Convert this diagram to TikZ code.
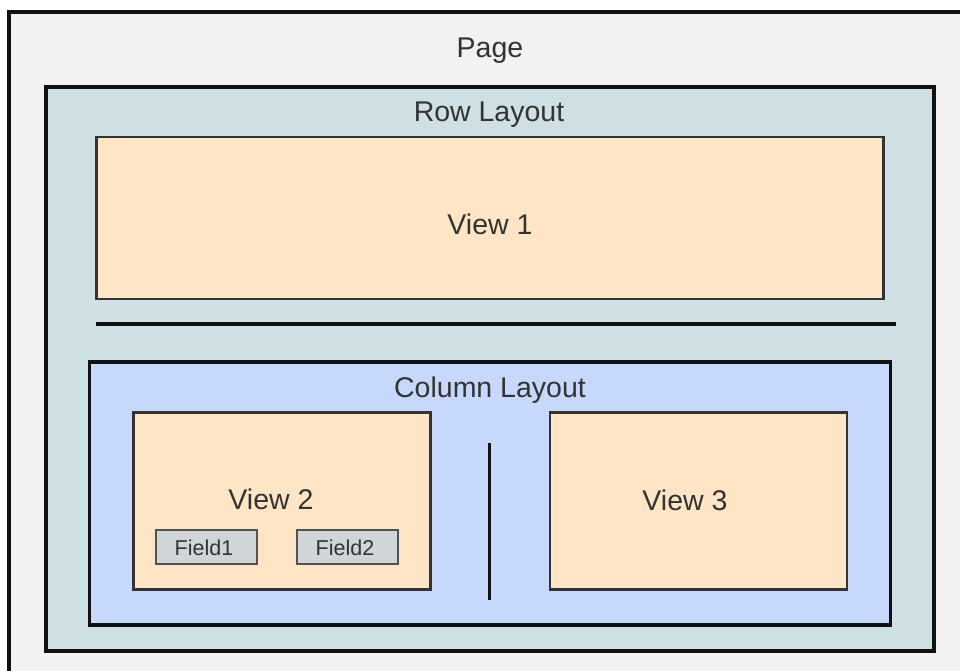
\documentclass[tikz,border=0pt]{standalone}
\usepackage{fontspec}
\setmainfont{Liberation Sans}
\definecolor{pagefill}{HTML}{F2F2F2}
\definecolor{rowfill}{HTML}{CEE0E4}
\definecolor{colfill}{HTML}{C6D8FC}
\definecolor{viewfill}{HTML}{FDE5C6}
\definecolor{fieldfill}{HTML}{D0D5D8}
\definecolor{txt}{HTML}{333333}
\definecolor{edge}{HTML}{111111}
\definecolor{vedge}{HTML}{333333}
\tikzset{
  box/.style={rectangle, anchor=north west, inner sep=0pt, outer sep=0pt},
  layoutbox/.style={box, draw=edge, line width=3.5pt},
  viewbox/.style={box, draw=vedge, fill=viewfill, line width=2.5pt},
  fieldbox/.style={box, draw=vedge!85, fill=fieldfill, line width=2pt},
  lbl/.style={anchor=base, inner sep=0pt, text=txt, font=\fontsize{28.5}{34}\selectfont},
  flbl/.style={anchor=base, inner sep=0pt, text=txt, font=\fontsize{21.5}{26}\selectfont},
  sep/.style={draw=edge, line width=3.8pt}
}
\begin{document}
\begin{tikzpicture}[x=1pt,y=-1pt]
\useasboundingbox (0,0) rectangle (960,671);
\clip (0,0) rectangle (960,671);
\fill[white] (0,0) rectangle (960,671);
% page
\node[layoutbox, fill=pagefill, minimum width=980pt, minimum height=690pt] (page) at (9,12) {};
\node[lbl] (pagelbl) at (490,58) {Page};
% row layout
\node[layoutbox, fill=rowfill, minimum width=888pt, minimum height=564pt] (row) at (46,87) {};
\node[lbl] (rowlbl) at (489,122) {Row Layout};
% view 1
\node[viewbox, minimum width=787pt, minimum height=162pt] (view1) at (96.5,137) {};
\node[lbl] (v1lbl) at (490,234.5) {View 1};
% separator
\coordinate (h1) at (96,324);
\coordinate (h2) at (896,324);
\draw[sep] (h1) -- (h2);
% column layout
\node[layoutbox, fill=colfill, minimum width=801pt, minimum height=263pt] (col) at (89.5,362) {};
\node[lbl] (collbl) at (490,397) {Column Layout};
% view 2
\node[viewbox, minimum width=297pt, minimum height=177pt] (view2) at (133.5,412.5) {};
\node[lbl] (v2lbl) at (271,509) {View 2};
\node[fieldbox, minimum width=101pt, minimum height=34pt] (f1) at (156,530) {};
\node[flbl] (f1lbl) at (204,555) {Field1};
\node[fieldbox, minimum width=101pt, minimum height=34pt] (f2) at (296.5,530) {};
\node[flbl] (f2lbl) at (345,555) {Field2};
% vertical separator
\coordinate (v1) at (489.5,443);
\coordinate (v2) at (489.5,600);
\draw[sep] (v1) -- (v2);
% view 3
\node[viewbox, minimum width=297pt, minimum height=177pt] (view3) at (550,412.5) {};
\node[lbl] (v3lbl) at (685,510) {View 3};
\end{tikzpicture}
\end{document}
